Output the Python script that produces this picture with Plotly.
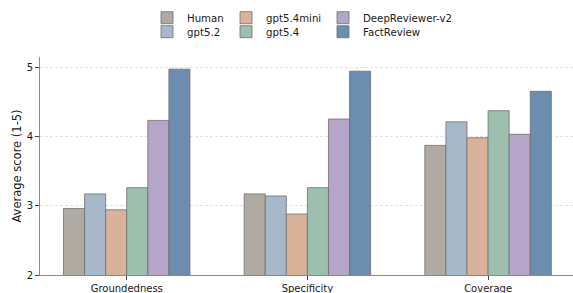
import plotly.graph_objects as go

categories = ["Groundedness", "Specificity", "Coverage"]
models = ["Human", "gpt5.2", "gpt5.4mini", "gpt5.4", "DeepReviewer-v2", "FactReview"]
scores = {
    "Human": [2.96, 3.17, 3.87],
    "gpt5.2": [3.17, 3.14, 4.21],
    "gpt5.4mini": [2.94, 2.88, 3.98],
    "gpt5.4": [3.26, 3.26, 4.37],
    "DeepReviewer-v2": [4.23, 4.25, 4.03],
    "FactReview": [4.97, 4.94, 4.65],
}
colors = {
    "Human": "#afaaa2",
    "gpt5.2": "#a8b8cb",
    "gpt5.4mini": "#d8b39a",
    "gpt5.4": "#9dc0ae",
    "DeepReviewer-v2": "#b5a5c9",
    "FactReview": "#6c8dae",
}
y_ticks = [2, 3, 4, 5]

FONT = "DejaVu Sans"
W, H = 573, 293
L, R, T, B = 40, 0, 57, 18
pw, ph = W - L - R, H - T - B

def px2x(px):
    return (px - L) / pw

def py2y(py):
    return (H - B - py) / ph

# legend placement (column text start px, row center px)
leg_pos = {
    "Human": (187, 17.7),
    "gpt5.2": (187, 31.7),
    "gpt5.4mini": (266, 17.7),
    "gpt5.4": (266, 31.7),
    "DeepReviewer-v2": (363, 17.7),
    "FactReview": (363, 31.7),
}

fig = go.Figure()
layout_legends = {}
for i, m in enumerate(models):
    lname = "legend" if i == 0 else f"legend{i+1}"
    fig.add_trace(go.Bar(
        x=categories, y=scores[m], name=m,
        marker=dict(color=colors[m], line=dict(color="#6e6e6e", width=0.8)),
        legend=lname,
    ))
    tx, ty = leg_pos[m]
    layout_legends[lname] = dict(
        x=px2x(tx - 40), y=py2y(ty), xanchor="left", yanchor="middle",
        bgcolor="rgba(0,0,0,0)", borderwidth=0,
        font=dict(family=FONT, size=10.2, color="#1a1a1a"),
        orientation="v", itemwidth=30,
    )

fig.update_layout(
    width=W, height=H,
    margin=dict(l=L, r=R, t=T, b=B, pad=0, autoexpand=False),
    paper_bgcolor="white", plot_bgcolor="white",
    barmode="group", bargap=0.3, bargroupgap=0,
    font=dict(family=FONT, size=10, color="#1a1a1a"),
    showlegend=True,
    **layout_legends,
)
fig.update_xaxes(
    type="category", range=[-0.48, 2.47],
    showline=True, linecolor="#888", linewidth=1,
    ticks="outside", ticklen=4, tickcolor="#444", tickwidth=1,
    showgrid=False, zeroline=False, automargin=False,
    tickfont=dict(family=FONT, size=10, color="#1a1a1a"),
)
fig.update_yaxes(
    range=[2, 5.145], tickvals=y_ticks,
    showline=True, linecolor="#888", linewidth=1,
    ticks="outside", ticklen=4, tickcolor="#444", tickwidth=1,
    showgrid=True, gridcolor="#e2e2e2", griddash="3px,2px", gridwidth=0.8,
    zeroline=False, automargin=False,
    tickfont=dict(family=FONT, size=10, color="#1a1a1a"),
    title=dict(text="Average score (1-5)", font=dict(family=FONT, size=11.5, color="#1a1a1a"), standoff=2),
)
fig.write_html(
    "out.html",
    config={"displayModeBar": False},
    post_script="document.body.style.margin='0';document.body.style.padding='0';",
)
